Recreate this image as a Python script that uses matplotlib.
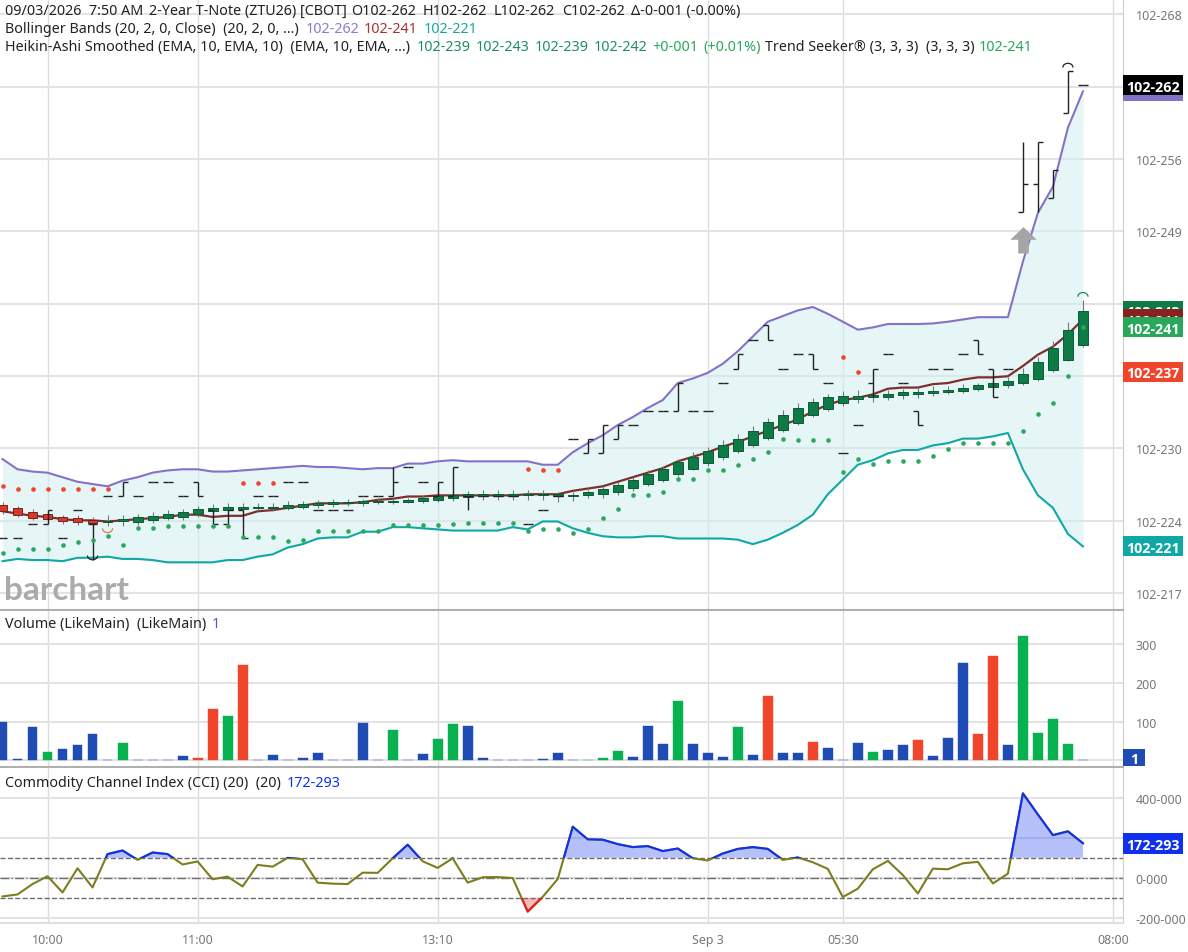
import matplotlib
matplotlib.use("Agg")
import matplotlib.pyplot as plt
from matplotlib.patches import Arc, Rectangle
from matplotlib.path import Path
import numpy as np

plt.rcParams["font.family"] = ["Noto Sans", "DejaVu Sans"]

# bollinger bands
upper = [228.8, 227.9, 227.7, 227.6, 227.2, 226.8, 226.6, 226.4, 226.9, 227.2,
         227.6, 227.8, 227.9, 227.9, 227.7, 227.7, 227.8, 227.9, 228.0, 228.1,
         228.2, 228.1, 228.1, 228.0, 227.9, 228.0, 228.0, 228.4, 228.4, 228.6,
         228.7, 228.6, 228.6, 228.6, 228.6, 228.6, 228.3, 228.3, 229.4, 230.2,
         230.9, 231.8, 232.5, 233.3, 234.0, 235.5, 235.9, 236.4, 237.2, 238.3,
         239.6, 240.9, 241.4, 241.9, 242.2, 241.6, 240.9, 240.2, 240.4, 240.7,
         240.7, 240.7, 240.75, 240.9, 241.1, 241.3, 241.3, 241.3, 246.2, 250.5,
         252.8, 258.0, 261.2]
middle = [224.2, 224.0, 223.8, 223.7, 223.5, 223.4, 223.4, 223.3, 223.4, 223.5,
          223.6, 223.7, 223.9, 223.9, 223.7, 223.8, 223.8, 224.2, 224.3, 224.5,
          224.7, 224.9, 224.9, 224.9, 225.0, 225.2, 225.3, 225.5, 225.5, 225.6,
          225.6, 225.6, 225.6, 225.6, 225.6, 225.7, 225.7, 225.7, 226.0, 226.2,
          226.4, 226.8, 227.2, 227.6, 228.0, 228.6, 229.0, 229.4, 229.9, 230.3,
          230.8, 231.3, 231.8, 232.3, 233.0, 233.6, 234.0, 234.2, 234.5, 235.0,
          235.1, 235.1, 235.4, 235.5, 235.8, 236.0, 236.0, 236.1, 237.0, 238.0,
          238.7, 239.8, 241.1]
lower = [219.8, 220.0, 219.9, 219.9, 219.8, 220.1, 220.1, 220.2, 220.0, 220.0,
         219.9, 219.7, 219.7, 219.7, 219.7, 219.9, 219.9, 220.2, 220.4, 221.0,
         221.3, 221.8, 221.9, 221.9, 222.4, 222.4, 222.8, 222.8, 222.7, 222.6,
         222.5, 222.5, 222.5, 222.5, 222.8, 222.6, 223.3, 223.3, 222.7, 222.3,
         222.0, 221.9, 221.9, 222.0, 222.0, 221.8, 221.8, 221.8, 221.8, 221.7,
         221.3, 221.7, 222.3, 223.0, 223.9, 225.7, 227.0, 228.3, 228.7, 229.3,
         229.6, 229.6, 230.0, 230.2, 230.6, 230.6, 230.8, 231.1, 227.9, 225.6,
         224.5, 222.2, 221.1]

# heikin ashi candles
ha_open = [224.77, 224.50, 224.15, 223.97, 223.71, 223.62, 223.44, 223.27, 223.36, 223.27,
           223.44, 223.62, 223.71, 223.97, 224.24, 224.33, 224.42, 224.50, 224.50, 224.50,
           224.59, 224.77, 224.86, 224.95, 224.95, 225.03, 225.03, 225.03, 225.12, 225.21,
           225.39, 225.47, 225.56, 225.56, 225.56, 225.65, 225.65, 225.56, 225.56, 225.65,
           225.74, 225.92, 226.27, 226.62, 226.98, 227.50, 227.95, 228.48, 229.00, 229.53,
           230.06, 230.68, 231.39, 232.00, 232.71, 233.24, 233.77, 234.12, 234.30, 234.30,
           234.48, 234.57, 234.65, 234.74, 234.83, 235.01, 235.18, 235.36, 235.54, 235.89,
           236.68, 237.57, 238.89]
ha_close = [224.24, 223.89, 223.62, 223.53, 223.36, 223.27, 223.18, 223.36, 223.53, 223.71,
            223.80, 223.97, 224.15, 224.42, 224.50, 224.59, 224.59, 224.59, 224.59, 224.77,
            224.86, 224.95, 225.03, 225.03, 225.12, 225.12, 225.12, 225.21, 225.39, 225.56,
            225.65, 225.74, 225.74, 225.74, 225.74, 225.74, 225.74, 225.74, 225.65, 225.92,
            226.18, 226.53, 226.98, 227.50, 227.95, 228.56, 229.00, 229.53, 230.06, 230.59,
            231.30, 232.09, 232.71, 233.33, 233.86, 234.30, 234.39, 234.39, 234.48, 234.57,
            234.74, 234.74, 234.83, 234.92, 235.10, 235.36, 235.54, 235.71, 236.33, 237.39,
            238.63, 240.13, 241.89]
ha_high = [225.0, 224.7, 224.4, 224.2, 223.9, 223.9, 223.7, 223.9, 223.9, 224.0,
           224.1, 224.3, 224.4, 224.7, 224.8, 224.9, 224.9, 224.9, 224.9, 225.1,
           225.1, 225.2, 225.3, 225.3, 225.3, 225.4, 225.4, 225.4, 225.6, 225.8,
           225.9, 226.0, 226.1, 226.1, 226.1, 226.1, 226.1, 225.9, 225.9, 226.1,
           226.4, 226.8, 227.2, 227.8, 228.2, 228.8, 229.4, 229.9, 230.5, 231.0,
           231.7, 232.4, 233.1, 233.7, 234.2, 234.5, 234.8, 234.9, 234.8, 234.9,
           235.0, 235.1, 235.2, 235.2, 235.4, 235.5, 235.8, 236.0, 236.8, 237.8,
           239.2, 240.9, 242.8]
ha_low = [224.0, 223.7, 223.4, 223.3, 223.1, 223.0, 222.9, 222.9, 222.9, 223.0,
          223.2, 223.4, 223.4, 223.7, 223.9, 224.1, 224.0, 224.2, 224.2, 224.3,
          224.4, 224.5, 224.6, 224.7, 224.7, 224.8, 224.8, 224.9, 224.9, 225.0,
          225.1, 225.2, 225.2, 225.2, 225.2, 225.2, 225.2, 225.0, 225.1, 225.4,
          225.4, 225.6, 226.0, 226.4, 226.8, 227.3, 227.8, 228.2, 228.7, 229.3,
          229.9, 230.5, 231.2, 231.8, 232.5, 233.0, 233.5, 233.7, 233.8, 234.0,
          234.1, 234.2, 234.4, 234.5, 234.6, 234.8, 235.0, 235.1, 235.3, 235.7,
          236.5, 237.4, 238.7]

# ohlc bars of the contract itself, most of them did not trade more than one tick
bar_open = [221.86, 221.86, 223.09, 223.09, 221.86, 224.33, 223.09, 225.56, 225.56, 225.56,
            226.80, 226.80, 225.56, 226.80, 224.33, 223.09, 224.33, 225.56, 225.56, 226.80,
            226.80, 224.33, 224.33, 224.33, 225.56, 225.56, 225.56, 228.12, 226.80, 225.56,
            225.56, 225.56, 225.56, 225.56, 225.56, 223.09, 224.33, 225.56, 230.59, 229.36,
            229.36, 230.59, 231.83, 233.07, 233.07, 233.07, 233.07, 233.07, 235.54, 236.77,
            239.33, 240.57, 236.77, 238.10, 238.10, 235.54, 229.36, 231.83, 235.54, 238.10,
            235.54, 233.07, 236.77, 236.77, 238.10, 239.33, 236.77, 236.77, 250.54, 253.01,
            251.78, 259.28, 261.75]
bar_close = [221.86, 221.86, 223.09, 224.33, 221.86, 224.33, 223.09, 225.56, 226.80, 225.56,
             226.80, 226.80, 225.56, 225.56, 223.09, 224.33, 221.86, 225.56, 225.56, 226.80,
             226.80, 224.33, 224.33, 224.33, 225.56, 225.56, 226.80, 228.12, 226.80, 226.80,
             228.12, 225.56, 225.56, 225.56, 225.56, 223.09, 224.33, 225.56, 230.59, 230.59,
             231.83, 231.83, 231.83, 233.07, 233.07, 235.54, 233.07, 233.07, 235.54, 238.10,
             239.33, 239.33, 236.77, 238.10, 236.77, 235.54, 229.36, 231.83, 236.77, 238.10,
             235.54, 231.83, 236.77, 236.77, 238.10, 238.10, 234.30, 236.77, 253.01, 256.72,
             254.25, 263.00, 261.75]
bar_high = [221.86, 221.86, 223.09, 224.33, 221.86, 224.33, 223.09, 225.56, 226.80, 225.56,
            226.80, 226.80, 225.56, 226.80, 224.33, 224.33, 224.33, 225.56, 225.56, 226.80,
            226.80, 224.33, 224.33, 224.33, 225.56, 225.56, 228.12, 228.12, 226.80, 226.80,
            228.12, 225.56, 225.56, 225.56, 225.56, 223.09, 224.33, 225.56, 230.59, 230.59,
            231.83, 231.83, 231.83, 233.07, 233.07, 235.54, 233.07, 233.07, 235.54, 238.10,
            239.33, 240.57, 236.77, 238.10, 238.10, 235.54, 229.36, 231.83, 236.77, 238.10,
            235.54, 233.07, 236.77, 236.77, 238.10, 239.33, 236.77, 236.77, 256.72, 256.72,
            254.25, 263.00, 261.75]
bar_low = [221.86, 221.86, 223.09, 223.09, 221.86, 224.33, 219.91, 225.56, 225.56, 225.56,
           226.80, 226.80, 225.56, 225.56, 223.09, 223.09, 221.86, 225.56, 225.56, 226.80,
           226.80, 224.33, 224.33, 224.33, 225.56, 225.56, 225.56, 228.12, 226.80, 225.56,
           225.56, 224.33, 225.56, 225.56, 225.56, 223.09, 224.33, 225.56, 230.59, 229.36,
           229.36, 230.59, 231.83, 233.07, 233.07, 233.07, 233.07, 233.07, 235.54, 236.77,
           239.33, 239.33, 236.77, 238.10, 236.77, 235.54, 229.36, 231.83, 234.30, 238.10,
           235.54, 231.83, 236.77, 236.77, 238.10, 238.10, 234.30, 236.77, 250.54, 250.54,
           251.78, 259.28, 261.75]

# trend seeker dots
dots_green = [220.5, 220.9, 220.9, 220.9, 221.2, 221.5, 221.7, 222.0, 221.2, 222.7,
              222.7, 222.9, 222.9, 222.9, 222.9, 222.9, 221.9, 221.9, 221.9, 221.6,
              221.7, 222.5, 222.5, 222.5, 222.5, 222.5, 223.0, 223.0, 223.0, 223.0,
              223.1, 223.2, 223.2, 223.2, 223.2, 222.5, 222.6, 222.6, 222.3, 222.6,
              223.6, 224.4, 225.6, 225.6, 225.9, 227.0, 227.0, 227.8, 227.8, 228.3,
              228.8, 229.4, 230.6, 230.5, 230.5, 230.5, 227.7, 228.8, 228.4, 228.6,
              228.6, 228.6, 229.1, 229.7, 230.2, 230.2, 230.2, 230.2, 231.3, 232.8,
              233.7, 236.1, 240.4]
dots_red_idx = [0, 1, 2, 3, 4, 5, 6, 7, 16, 17, 18, 35, 36, 37, 56, 57]
dots_red = [226.4, 226.2, 226.2, 226.2, 226.2, 226.2, 226.2, 226.2, 226.7, 226.7, 226.7,
            227.95, 227.85, 227.85, 237.8, 236.5]

volume = [100, 3, 86, 22, 30, 39, 67, 1, 46, 1,
          1, 1, 11, 6, 132, 116, 246, 1, 13, 1,
          7, 20, 1, 1, 97, 1, 79, 1, 17, 56,
          93, 88, 7, 1, 1, 1, 3, 19, 1, 2,
          5, 24, 10, 88, 42, 154, 43, 20, 10, 86,
          15, 166, 20, 18, 48, 33, 1, 46, 22, 26,
          40, 52, 11, 59, 251, 69, 271, 40, 322, 72,
          106, 42, 1]
vol_green = [3, 8, 15, 26, 29, 30, 39, 40, 41, 45, 49, 58, 68, 69, 70, 71]
vol_red = [13, 14, 16, 51, 54, 61, 65, 66]

cci = [-94, -84, -32, 7, -74, 47, -49, 118, 136, 89,
       126, 118, 66, 81, -8, 5, -44, 64, 55, 99,
       92, -25, -30, -32, 25, 24, 97, 165, 82, 49,
       97, -25, 2, 3, -2, -170, -96, -7, 255, 192,
       190, 168, 153, 158, 133, 146, 97, 86, 121, 144,
       153, 144, 89, 101, 77, 44, -97, -55, 42, 84,
       13, -79, 45, 42, 72, 79, -29, 20, 422, 316,
       213, 232, 172.3]

price_ticks = [217.0, 223.375, 229.75, 236.125, 242.5, 248.875, 255.25, 261.625, 268.0]
# 243, 237 and 262 sit under the coloured price tags
price_labels = ["102-217", "102-224", "102-230", "", "",
                "102-249", "102-256", "", "102-268"]
vol_ticks = [0, 100, 200, 300]
vol_labels = ["", "100", "200", "300"]
cci_ticks = [-200, 0, 200, 400]
cci_labels = ["-200-000", "0-000", "", "400-000"]

time_idx = [3, 13, 29, 47, 56, 74]
time_labels = ["10:00", "11:00", "13:10", "Sep 3", "05:30", "08:00"]

PURPLE = "#8272c8"
MAROON = "#7d2e2e"
TEAL = "#10a8a5"
DARK_GREEN = "#0e7a45"
BRIGHT_GREEN = "#27a85a"
RED = "#f0452b"
BLUE = "#1f4bb5"
CCI_BLUE = "#1030f0"
OLIVE = "#7d7d1e"
GRID = "#e3e3e3"
TEXT = "#222222"
TICK_TEXT = "#777777"

W, H = 1188, 953
x = np.arange(len(upper))
xlim = (-0.167, 74.67)


def pane(top, bottom):
    # pane position in pixels of the final image, right axis starts at x=1123
    return [0, 1 - bottom / H, 1123 / W, (bottom - top) / H]


fig = plt.figure(figsize=(W / 100, H / 100), dpi=100, facecolor="white")
ax_price = fig.add_axes(pane(0, 611))
ax_vol = fig.add_axes(pane(612, 768))
ax_cci = fig.add_axes(pane(769, 924))

ax_price.set_ylim(215.5, 269.34)
ax_vol.set_ylim(-17, 386)
ax_cci.set_ylim(-227, 549)

for ax, ticks, labels in [(ax_price, price_ticks, price_labels),
                          (ax_vol, vol_ticks, vol_labels),
                          (ax_cci, cci_ticks, cci_labels)]:
    ax.set_xlim(xlim)
    ax.set_yticks(ticks)
    ax.set_yticklabels(labels)
    ax.set_xticks(time_idx)
    ax.yaxis.tick_right()
    ax.tick_params(axis="y", length=0, pad=9, labelsize=9, labelcolor=TICK_TEXT)
    ax.tick_params(axis="x", length=0, labelbottom=False)
    ax.grid(axis="y", color=GRID, lw=1.5, zorder=0)
    ax.grid(axis="x", color="#dcdcdc", lw=1.0, zorder=0)
    ax.set_axisbelow(True)
    ax.spines["top"].set_visible(False)
    ax.spines["left"].set_visible(False)
    ax.spines["right"].set_color("#cfcfcf")
    ax.spines["bottom"].set_color("#b0b0b0")
    ax.spines["bottom"].set_linewidth(1.5)

ax_cci.spines["bottom"].set_color("#e0e0e0")
ax_cci.set_xticklabels(time_labels)
ax_cci.tick_params(axis="x", labelbottom=True, labelsize=9, labelcolor=TICK_TEXT, pad=7)

# price pane
ax_price.fill_between(x, lower, upper, color="#d3edf0", alpha=0.55, lw=0, zorder=1)
ax_price.plot(x, upper, color=PURPLE, lw=1.5, zorder=3)
ax_price.plot(x, lower, color=TEAL, lw=1.5, zorder=3)
ax_price.plot(x, middle, color=MAROON, lw=1.6, zorder=3)

ha_up = [c >= o for o, c in zip(ha_open, ha_close)]
ax_price.vlines(x, ha_low, ha_high, color="#777777", lw=0.8, zorder=4)
body_bottom = [min(o, c) for o, c in zip(ha_open, ha_close)]
body_height = [abs(o - c) for o, c in zip(ha_open, ha_close)]
ax_price.bar(x, body_height, bottom=body_bottom, width=0.66,
             color=[DARK_GREEN if u else "#d8392b" for u in ha_up],
             edgecolor=["#0a5c33" if u else "#7a2020" for u in ha_up],
             lw=0.7, zorder=5)

ax_price.vlines(x, bar_low, bar_high, color=TEXT, lw=1.0, zorder=6)
ax_price.hlines(bar_open, x - 0.33, x, color=TEXT, lw=1.0, zorder=6)
ax_price.hlines(bar_close, x, x + 0.33, color=TEXT, lw=1.0, zorder=6)

ax_price.scatter(x, dots_green, s=11, color="#2aa860", lw=0, zorder=7)
ax_price.scatter(dots_red_idx, dots_red, s=11, color=RED, lw=0, zorder=7)

# small arcs above and below the swing bars
for xc, yc, col, t1, t2 in [(6, 220.3, TEXT, 180, 360),
                            (7, 222.7, "#d08050", 180, 360),
                            (71, 263.3, TEXT, 0, 180),
                            (72, 243.1, "#1a8a60", 0, 180)]:
    ax_price.add_patch(Arc((xc, yc), 0.68, 0.75, theta1=t1, theta2=t2, color=col, lw=0.9, zorder=6))

arrow = Path([(-0.2, 0), (-0.2, 0.52), (-0.5, 0.52), (0, 1), (0.5, 0.52),
              (0.2, 0.52), (0.2, 0), (-0.2, 0)], closed=True)
ax_price.plot([68], [247.0], marker=arrow, ms=38, color="#a5a5a5", mew=0, zorder=5)

fig.text(4 / W, 1 - 591 / H, "barchart", family="Lato", weight="bold", fontsize=24,
         color="#ababab", va="center", ha="left")

# volume pane
vol_colors = []
for i in x:
    if i in vol_green:
        vol_colors.append("#08b14f")
    elif i in vol_red:
        vol_colors.append(RED)
    else:
        vol_colors.append(BLUE)
ax_vol.bar(x, volume, width=0.66, color=vol_colors, edgecolor=vol_colors, lw=0.3, zorder=3)

# cci pane
for level, style in [(100, "--"), (-100, "--"), (0, "-.")]:
    ax_cci.axhline(level, color="#6e6e6e", lw=1.0, ls=style, zorder=1)
cci = np.array(cci, dtype=float)
ax_cci.fill_between(x, 100, cci, where=cci > 100, interpolate=True, color=CCI_BLUE, alpha=0.3, lw=0, zorder=2)
ax_cci.fill_between(x, -100, cci, where=cci < -100, interpolate=True, color="#e02020", alpha=0.3, lw=0, zorder=2)
ax_cci.plot(x, cci, color=OLIVE, lw=1.5, zorder=3)
blue_line, = ax_cci.plot(x, cci, color=CCI_BLUE, lw=1.5, zorder=4)
blue_line.set_clip_path(Rectangle((-1, 100), 80, 500, transform=ax_cci.transData))
red_line, = ax_cci.plot(x, cci, color="#e02020", lw=1.5, zorder=4)
red_line.set_clip_path(Rectangle((-1, -300), 80, 200, transform=ax_cci.transData))


def price_tag(ax, val, label, color, z, width=60, height=20):
    # coloured box sitting on the right axis, centred on the value
    y0, y1 = ax.get_ylim()
    h = height / ax.bbox.height * (y1 - y0)
    w = width / ax.bbox.width
    trans = ax.get_yaxis_transform()
    ax.add_patch(Rectangle((1.0, val - h / 2), w, h, transform=trans, color=color,
                           clip_on=False, lw=0, zorder=z))
    ax.text(1.0 + w / 2, val, label, transform=trans, color="white", fontsize=10.3,
            family="Open Sans", weight="bold", ha="center", va="center_baseline",
            clip_on=False, zorder=z)


price_tag(ax_price, 261.2, "", PURPLE, 10)
price_tag(ax_price, 261.75, "102-262", "black", 11)
price_tag(ax_price, 241.89, "102-243", DARK_GREEN, 12)
price_tag(ax_price, 241.1, "102-241", "#8b2020", 13)
price_tag(ax_price, 240.4, "102-241", BRIGHT_GREEN, 14)
price_tag(ax_price, 236.5, "102-237", RED, 15)
price_tag(ax_price, 221.1, "102-221", TEAL, 16)
price_tag(ax_vol, 7, "1", BLUE, 10, width=22, height=17)
price_tag(ax_cci, 172.3, "172-293", CCI_BLUE, 10, height=21)


def header(px, py, txt, color=TEXT):
    fig.text(px / W, 1 - (py + 1.5) / H, txt, color=color, fontsize=10.3, ha="left", va="center")


header(5, 10, "09/03/2026  7:50 AM")
header(149, 10, "2-Year T-Note (ZTU26) [CBOT]")
header(351, 10, "O102-262")
header(423, 10, "H102-262")
header(494, 10, "L102-262")
header(562, 10, "C102-262")
header(631, 10, "Δ-0-001 (-0.00%)")
header(5, 28, "Bollinger Bands (20, 2, 0, Close)  (20, 2, 0, ...)")
header(306, 28, "102-262", "#8a7ccf")
header(364, 28, "102-241", "#a83232")
header(424, 28, "102-221", "#14a89f")
header(5, 46, "Heikin-Ashi Smoothed (EMA, 10, EMA, 10)  (EMA, 10, EMA, ...)")
header(417, 46, "102-239", "#1d8f5f")
header(476, 46, "102-243", "#1d8f5f")
header(535, 46, "102-239", "#1d8f5f")
header(594, 46, "102-242", "#1d8f5f")
header(652, 46, "+0-001", "#27a85a")
header(703, 46, "(+0.01%)", "#27a85a")
header(765, 46, "Trend Seeker® (3, 3, 3)  (3, 3, 3)")
header(979, 46, "102-241", "#27a85a")
header(5, 623, "Volume (LikeMain)  (LikeMain)")
header(212, 623, "1", "#5060b0")
header(5, 782, "Commodity Channel Index (CCI) (20)  (20)")
header(287, 782, "172-293", CCI_BLUE)

fig.savefig("out.png", dpi=100)
